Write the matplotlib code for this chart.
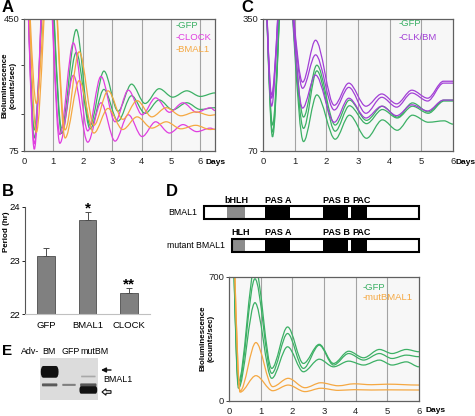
import numpy as np
import matplotlib
matplotlib.use('Agg')
import matplotlib.pyplot as plt
from matplotlib.path import Path
from matplotlib.patches import PathPatch, FancyBboxPatch, FancyArrow

plt.rcParams['font.family'] = ['Liberation Sans', 'DejaVu Sans']

W, H = 475, 416

GREEN = '#3cb065'
MAGENTA = '#e03ee0'
ORANGE = '#f5a842'
PURPLE = '#a23fd6'

# panel A: peak / trough readings of each trace (days, counts/sec)
a_gfp_t = [0, 0.35, 0.8, 1.28, 1.78, 2.25, 2.72, 3.2, 3.66, 4.12, 4.6, 5.06, 5.54, 6.0, 6.5]
a_gfp_1 = [700, 135, 720, 140, 420, 148, 302, 188, 265, 210, 252, 228, 246, 230, 240]
a_gfp_2 = [700, 112, 700, 125, 355, 138, 250, 160, 232, 182, 220, 192, 212, 193, 198]
a_clk_t = [0, 0.35, 0.76, 1.22, 1.68, 2.17, 2.62, 3.1, 3.55, 4.02, 4.48, 4.95, 5.41, 5.88, 6.34, 6.5]
a_clk_1 = [700, 95, 720, 122, 382, 132, 287, 158, 248, 178, 226, 185, 212, 185, 198, 190]
a_clk_2 = [700, 80, 700, 97, 290, 100, 212, 103, 178, 116, 158, 126, 150, 130, 140, 136]
a_bm_t = [0, 0.42, 0.9, 1.4, 1.88, 2.38, 2.86, 3.36, 3.85, 4.35, 4.84, 5.34, 5.84, 6.34, 6.5]
a_bm_1 = [700, 210, 720, 135, 357, 148, 246, 165, 218, 172, 198, 175, 186, 176, 178]
a_bm_2 = [700, 128, 700, 112, 275, 126, 196, 136, 172, 140, 158, 138, 148, 136, 137]

# panel C
c_clk_t = [0, 0.27, 0.66, 1.25, 1.66, 2.25, 2.71, 3.25, 3.75, 4.22, 4.7, 5.2, 5.7, 6.0]
c_clk_1 = [500, 189, 520, 216, 305, 167, 214, 165, 191, 170, 199, 182, 218, 218]
c_clk_2 = [500, 182, 520, 203, 274, 157, 205, 150, 184, 163, 193, 176, 214, 214]
c_clk_3 = [500, 165, 520, 161, 231, 131, 182, 140, 165, 145, 168, 155, 178, 178]
c_gfp_t = [0, 0.3, 0.68, 1.28, 1.7, 2.28, 2.73, 3.27, 3.77, 4.24, 4.72, 5.22, 5.72, 6.0]
c_gfp_1 = [500, 125, 520, 142, 252, 125, 178, 135, 165, 142, 172, 153, 178, 178]
c_gfp_2 = [500, 110, 520, 118, 240, 112, 166, 128, 158, 140, 165, 150, 176, 176]
c_gfp_3 = [500, 100, 520, 90, 189, 95, 146, 97, 136, 114, 146, 131, 134, 127]

# panel D
d_gfp_t = [0, 0.3, 0.82, 1.35, 1.85, 2.35, 2.85, 3.3, 3.78, 4.25, 4.75, 5.15, 5.6, 6.0]
d_gfp_1 = [1500, 110, 760, 184, 418, 212, 320, 212, 281, 244, 291, 268, 291, 278]
d_gfp_2 = [1500, 90, 690, 156, 381, 184, 315, 203, 268, 231, 268, 240, 259, 250]
d_gfp_3 = [1500, 72, 555, 128, 306, 165, 236, 193, 225, 203, 231, 203, 221, 193]
d_mut_t = [0, 0.35, 0.85, 1.38, 1.87, 2.4, 2.9, 3.45, 3.95, 4.5, 5.0, 6.0]
d_mut_1 = [1500, 56, 330, 81, 128, 75, 103, 86, 97, 92, 95, 90]
d_mut_2 = [1500, 50, 143, 58, 90, 53, 72, 60, 64, 62, 63, 62]

# panel B
b_groups = ['GFP', 'BMAL1', 'CLOCK']
b_period = [23.08, 23.75, 22.40]
b_err = [0.16, 0.16, 0.09]
b_marks = ['', '*', '**']

# panel D domain maps (percent of full-length bar)
dom_names = ['BMAL1', 'mutant BMAL1']
dom_start = [0, 13.2]
dom_hlh = [(10.9, 18.9), (13.2, 18.9)]
dom_pas = [(28.4, 40.0), (55.3, 67.0), (68.4, 75.8)]
dom_labels = [['bHLH', 'PAS A', 'PAS B', 'PAC'], ['HLH', 'PAS A', 'PAS B', 'PAC']]
dom_label_x = [[15.3, 34.4, 61.4, 73.5], [17.0, 34.4, 61.4, 73.5]]

# panel E western blot bands (lane, height in blot, band height, width, shade)
e_lanes = ['BM', 'GFP', 'mutBM']
e_band_lane = [0, 0, 1, 2, 2, 2]
e_band_y = [0.33, 0.64, 0.64, 0.44, 0.64, 0.76]
e_band_h = [0.28, 0.07, 0.05, 0.04, 0.07, 0.18]
e_band_w = [0.92, 0.8, 0.7, 0.75, 0.85, 0.92]
e_band_shade = ['#101010', '#5a5a5a', '#808080', '#a8a8a8', '#555555', '#121212']


def box(l, t, r, b):
    return [l / W, 1 - b / H, (r - l) / W, (b - t) / H]


def trace(ax, t, v, color, lw=0.9):
    verts = [(t[0], v[0])]
    codes = [Path.MOVETO]
    for i in range(1, len(t)):
        dt = (t[i] - t[i - 1]) / 3
        verts += [(t[i - 1] + dt, v[i - 1]), (t[i] - dt, v[i]), (t[i], v[i])]
        codes += [Path.CURVE4] * 3
    ax.add_patch(PathPatch(Path(verts, codes), fill=False, ec=color, lw=lw))


def course(rect, xmax, ylo, yhi, minor=()):
    ax = fig.add_axes(box(*rect))
    ax.set_facecolor('#f7f7f7')
    ax.set_xlim(0, xmax)
    ax.set_ylim(ylo, yhi)
    for d in range(1, 7):
        if d < xmax:
            ax.axvline(d, color='#a3a3a3', lw=0.8, zorder=0)
    ax.set_xticks(range(7))
    ax.tick_params(axis='x', length=0, pad=4, labelsize=6.8, colors='#222222')
    ax.set_yticks([ylo, yhi])
    ax.set_yticks(minor, minor=True)
    ax.tick_params(axis='y', which='both', length=2, width=0.6, pad=1.5,
                   labelsize=6.8, colors='#222222')
    for s in ax.spines.values():
        s.set_color('#606060')
        s.set_linewidth(0.9)
    return ax


fig = plt.figure(figsize=(4.75, 4.16), dpi=100)

# A
axa = course((24, 19, 215, 151), 6.5, 75, 450, minor=[180, 320])
for v in (a_gfp_1, a_gfp_2):
    trace(axa, a_gfp_t, v, GREEN)
for v in (a_clk_1, a_clk_2):
    trace(axa, a_clk_t, v, MAGENTA)
for v in (a_bm_1, a_bm_2):
    trace(axa, a_bm_t, v, ORANGE)

# C
axc = course((263, 19, 453, 151), 6, 70, 350)
for v in (c_gfp_1, c_gfp_2, c_gfp_3):
    trace(axc, c_gfp_t, v, GREEN)
for v in (c_clk_1, c_clk_2, c_clk_3):
    trace(axc, c_clk_t, v, PURPLE)

# D
axd2 = course((229, 277, 419, 401), 6, 0, 700)
for v in (d_gfp_1, d_gfp_2, d_gfp_3):
    trace(axd2, d_gfp_t, v, GREEN)
for v in (d_mut_1, d_mut_2):
    trace(axd2, d_mut_t, v, ORANGE)

# B
axb = fig.add_axes(box(25, 207, 150, 314))
x = np.arange(len(b_groups))
axb.bar(x, b_period, width=0.43, color='#808080', edgecolor='#4d4d4d', lw=0.6)
axb.errorbar(x, b_period, yerr=[np.zeros(len(x)), b_err], fmt='none',
             ecolor='#4d4d4d', elinewidth=0.7, capsize=2.2, capthick=0.7)
axb.set_xlim(-0.5, 2.5)
axb.set_ylim(22, 24)
axb.set_yticks([22, 23, 24])
axb.set_xticks(x, b_groups)
axb.tick_params(axis='x', length=0, pad=5, labelsize=6.8)
axb.tick_params(axis='y', length=2, width=0.6, pad=1.5, labelsize=6.8)
axb.spines['top'].set_visible(False)
axb.spines['right'].set_visible(False)
axb.spines['bottom'].set_color('#c0c0c0')
axb.spines['left'].set_color('#555555')
for xi, p, e, m in zip(x, b_period, b_err, b_marks):
    axb.text(xi, p + e - 0.07, m, ha='center', va='bottom', fontsize=11,
             fontweight='bold', clip_on=False)

# D domain maps
axm = fig.add_axes(box(199.7, 190, 423.3, 258))
axm.set_xlim(-2, 102)
axm.set_ylim(258, 190)
axm.axis('off')
row_y = [212.5, 245]
for yc, st, (g0, g1), labs, lx, name in zip(row_y, dom_start, dom_hlh,
                                             dom_labels, dom_label_x, dom_names):
    axm.barh(yc, 100 - st, left=st, height=13, color='white', zorder=1)
    axm.barh(yc, g1 - g0, left=g0, height=13, color='#8c8c8c', zorder=2)
    for s0, s1 in dom_pas:
        axm.barh(yc, s1 - s0, left=s0, height=13, color='black', zorder=2)
    axm.barh(yc, 100 - st, left=st, height=13, fill=False, edgecolor='black',
             lw=1.5, zorder=3)
    for lab, xx in zip(labs, lx):
        axm.text(xx, yc - 8, lab, ha='center', va='bottom', fontsize=6.5,
                 fontweight='bold')
    axm.text(st - 3.3, yc, name, ha='right', va='center', fontsize=6.3)

# E blot
axe = fig.add_axes(box(40, 358, 98, 400))
axe.set_xlim(0, 3)
axe.set_ylim(1, 0)
axe.set_facecolor('#dcdcdc')
axe.set_xticks([])
axe.set_yticks([])
for s in axe.spines.values():
    s.set_visible(False)
for ln, y, h, w, c in zip(e_band_lane, e_band_y, e_band_h, e_band_w, e_band_shade):
    axe.add_patch(FancyBboxPatch((ln + 0.5 - w / 2, y - h / 2), w, h,
                                 boxstyle='round,pad=0,rounding_size=%.3f' % (h / 2),
                                 mutation_aspect=1, fc=c, ec='none'))

# overlay for labels, in figure pixels
ov = fig.add_axes([0, 0, 1, 1], zorder=5)
ov.set_xlim(0, W)
ov.set_ylim(H, 0)
ov.axis('off')

for lab, px, py, fs in [('A', 2, 8, 12), ('C', 241, 8, 12), ('B', 2, 192, 12),
                        ('D', 166, 192, 12), ('E', 2, 351, 11)]:
    ov.text(px, py, lab, fontsize=fs, fontweight='bold', va='center')

for txt, px, py, c in [('-GFP', 176, 26, GREEN), ('-CLOCK', 176, 37, MAGENTA),
                       ('-BMAL1', 176, 49, ORANGE), ('-GFP', 399, 24, GREEN),
                       ('-CLK/BM', 399, 38, PURPLE), ('-GFP', 363, 287, GREEN),
                       ('-mutBMAL1', 363, 298, ORANGE)]:
    ov.text(px, py, txt, color=c, fontsize=6.8, va='center')

for px, py in [(206, 162), (455, 162), (425, 411)]:
    ov.text(px, py, 'Days', fontsize=6.0, fontweight='bold', va='center')

for px, py in [(9, 85), (207, 338)]:
    ov.text(px, py, 'Bioluminescence\n(counts/sec)', rotation=90, ha='center',
            va='center', fontsize=5.8, fontweight='bold', linespacing=1.15)
ov.text(7, 232, 'Period (hr)', rotation=90, ha='center', va='center',
        fontsize=5.8, fontweight='bold')

ov.text(21, 351, 'Adv-', fontsize=6.4, va='center')
for lab, px in zip(e_lanes, [42, 61, 80]):
    ov.text(px, 351, lab, fontsize=6.4, va='center')
ov.annotate('', xy=(101, 370), xytext=(111, 370),
            arrowprops=dict(arrowstyle='-|>', color='#111111', lw=1.0,
                            mutation_scale=7, shrinkA=0, shrinkB=0))
ov.text(103, 380, 'BMAL1', fontsize=6.4, va='center')
ov.add_patch(FancyArrow(111, 392, -9, 0, width=2.6, head_width=6.5, head_length=4,
                        length_includes_head=True, fc='white', ec='#111111', lw=0.8))

fig.savefig('out.png', dpi=100)
